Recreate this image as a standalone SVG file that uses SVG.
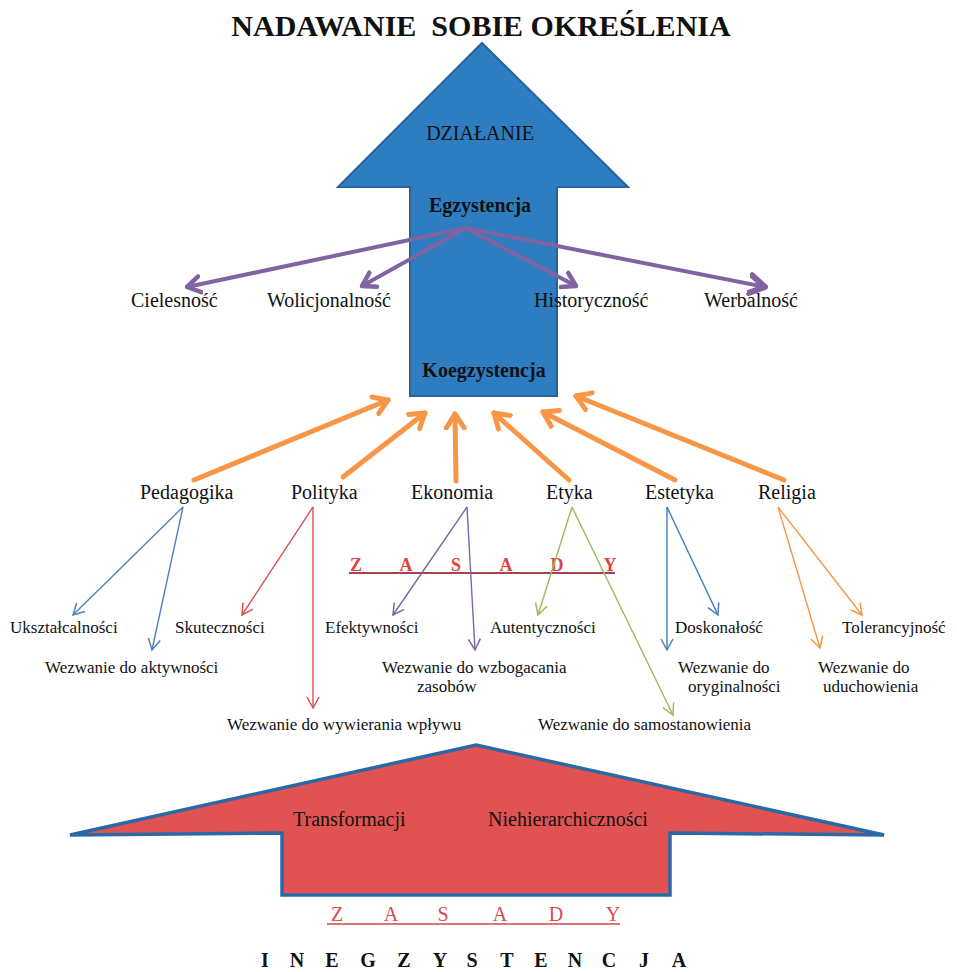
<svg xmlns="http://www.w3.org/2000/svg" width="957" height="972" viewBox="0 0 957 972">
<style>
text{font-family:"Liberation Serif","Times New Roman",serif;fill:#111}
.t{font-size:30px;font-weight:bold;white-space:pre}
.m{font-size:20px}
.b{font-size:20px;font-weight:bold}
.s{font-size:17px}
.z1{font-size:18px;font-weight:bold;fill:#E04545}
.z2{font-size:20px;fill:#D84B4B}
.ine{font-size:20px;font-weight:bold}
.pu{stroke:#8064A2;fill:none;stroke-width:4;stroke-linecap:round}
.or{stroke:#F79646;fill:none;stroke-width:5;stroke-linecap:round}
.th{fill:none;stroke-width:1.4}
</style>
<defs>
<marker id="mPu" markerUnits="userSpaceOnUse" markerWidth="30" markerHeight="30" viewBox="-15 -15 30 30" refX="0" refY="0" orient="auto"><path d="M-13,-8 L0,0 L-13,8" fill="none" stroke="#8064A2" stroke-width="4.5" stroke-linecap="round" stroke-linejoin="round"/></marker>
<marker id="mPuB" markerUnits="userSpaceOnUse" markerWidth="34" markerHeight="34" viewBox="-17 -17 34 34" refX="0" refY="0" orient="auto"><path d="M-15,-9 L0,0 L-15,9" fill="none" stroke="#8064A2" stroke-width="6" stroke-linecap="round" stroke-linejoin="round"/></marker>
<marker id="mOr" markerUnits="userSpaceOnUse" markerWidth="32" markerHeight="32" viewBox="-16 -16 32 32" refX="0" refY="0" orient="auto"><path d="M-14,-9 L0,0 L-14,9" fill="none" stroke="#F79646" stroke-width="5" stroke-linecap="round" stroke-linejoin="round"/></marker>
<marker id="tBl" markerUnits="userSpaceOnUse" markerWidth="24" markerHeight="24" viewBox="-12 -12 24 24" refX="0" refY="0" orient="auto"><path d="M-11,-6 L0,0 L-11,6" fill="none" stroke="#4F81BD" stroke-width="1.5"/></marker>
<marker id="tRd" markerUnits="userSpaceOnUse" markerWidth="24" markerHeight="24" viewBox="-12 -12 24 24" refX="0" refY="0" orient="auto"><path d="M-11,-6 L0,0 L-11,6" fill="none" stroke="#D9534F" stroke-width="1.5"/></marker>
<marker id="tPu" markerUnits="userSpaceOnUse" markerWidth="24" markerHeight="24" viewBox="-12 -12 24 24" refX="0" refY="0" orient="auto"><path d="M-11,-6 L0,0 L-11,6" fill="none" stroke="#8064A2" stroke-width="1.5"/></marker>
<marker id="tGr" markerUnits="userSpaceOnUse" markerWidth="24" markerHeight="24" viewBox="-12 -12 24 24" refX="0" refY="0" orient="auto"><path d="M-11,-6 L0,0 L-11,6" fill="none" stroke="#9BBB59" stroke-width="1.5"/></marker>
<marker id="tOr" markerUnits="userSpaceOnUse" markerWidth="24" markerHeight="24" viewBox="-12 -12 24 24" refX="0" refY="0" orient="auto"><path d="M-11,-6 L0,0 L-11,6" fill="none" stroke="#F79646" stroke-width="1.5"/></marker>
</defs>
<rect width="957" height="972" fill="#ffffff"/>

<g id="title"><text class="t" x="481" y="36" text-anchor="middle">NADAWANIE  SOBIE OKREŚLENIA</text></g>

<g id="arrow-up">
<polygon points="482,43 628,187 557,187 557,396 410,396 410,187 338,187" fill="#2E7DC1" stroke="#2462A0" stroke-width="2" stroke-linejoin="miter"/>
<text class="m" x="480" y="140" text-anchor="middle">DZIAŁANIE</text>
</g>
<g id="egzystencja"><text class="b" x="480" y="212" text-anchor="middle">Egzystencja</text></g>
<g id="koegzystencja"><text class="b" x="484" y="377" text-anchor="middle">Koegzystencja</text></g>

<g id="cielesnosc"><text class="m" x="131" y="307">Cielesność</text></g>
<g id="wolicjonalnosc"><text class="m" x="267" y="307">Wolicjonalność</text></g>
<g id="historycznosc"><text class="m" x="534" y="307">Historyczność</text></g>
<g id="werbalnosc"><text class="m" x="704" y="307">Werbalność</text></g>

<g id="pedagogika"><text class="m" x="140" y="499">Pedagogika</text></g>
<g id="polityka"><text class="m" x="291" y="499">Polityka</text></g>
<g id="ekonomia"><text class="m" x="411" y="499">Ekonomia</text></g>
<g id="etyka"><text class="m" x="546" y="499">Etyka</text></g>
<g id="estetyka"><text class="m" x="645" y="499">Estetyka</text></g>
<g id="religia"><text class="m" x="758" y="499">Religia</text></g>

<g id="zasady-top">
<line x1="349" y1="573" x2="615" y2="573" stroke="#A8404E" stroke-width="2"/>
<text class="z1" y="571" text-anchor="middle"><tspan x="356">Z</tspan><tspan x="406">A</tspan><tspan x="456">S</tspan><tspan x="506">A</tspan><tspan x="557">D</tspan><tspan x="610">Y</tspan></text>
</g>

<g id="connectors">
<line class="pu" x1="466" y1="228" x2="187" y2="287" marker-end="url(#mPu)"/>
<line class="pu" x1="466" y1="228" x2="362" y2="286" marker-end="url(#mPu)"/>
<line class="pu" x1="466" y1="228" x2="576" y2="286" marker-end="url(#mPu)"/>
<line class="pu" x1="466" y1="228" x2="765" y2="287" stroke-width="6" marker-end="url(#mPuB)"/>

<line class="or" x1="194" y1="480" x2="388" y2="400" marker-end="url(#mOr)"/>
<line class="or" x1="343" y1="477" x2="425" y2="413" marker-end="url(#mOr)"/>
<line class="or" x1="456" y1="481" x2="455" y2="414" marker-end="url(#mOr)"/>
<line class="or" x1="569" y1="480" x2="494" y2="413" marker-end="url(#mOr)"/>
<line class="or" x1="675" y1="480" x2="543" y2="412" marker-end="url(#mOr)"/>
<line class="or" x1="784" y1="480" x2="576" y2="396" marker-end="url(#mOr)"/>

<g stroke="#4F81BD" class="th">
<line x1="183" y1="507" x2="73" y2="615" marker-end="url(#tBl)"/>
<line x1="183" y1="507" x2="152" y2="650" marker-end="url(#tBl)"/>
</g>
<g stroke="#D9534F" class="th">
<line x1="313" y1="507" x2="242" y2="615" marker-end="url(#tRd)"/>
<line x1="313" y1="507" x2="313" y2="708" marker-end="url(#tRd)"/>
</g>
<g stroke="#8064A2" class="th">
<line x1="467" y1="507" x2="393" y2="615" marker-end="url(#tPu)"/>
<line x1="467" y1="507" x2="475" y2="650" marker-end="url(#tPu)"/>
</g>
<g stroke="#9BBB59" class="th">
<line x1="572" y1="507" x2="538" y2="615" marker-end="url(#tGr)"/>
<line x1="572" y1="507" x2="673" y2="715" marker-end="url(#tGr)"/>
</g>
<g stroke="#3F7CBF" class="th">
<line x1="667" y1="507" x2="718" y2="615" marker-end="url(#tBl)"/>
<line x1="667" y1="507" x2="667" y2="650" marker-end="url(#tBl)"/>
</g>
<g stroke="#F79646" class="th">
<line x1="778" y1="507" x2="862" y2="615" marker-end="url(#tOr)"/>
<line x1="778" y1="507" x2="820" y2="648" marker-end="url(#tOr)"/>
</g>
</g>

<g id="ukształcalnosci"><text class="s" x="10" y="633">Ukształcalności</text></g>
<g id="aktywnosci"><text class="s" x="45" y="673">Wezwanie do aktywności</text></g>
<g id="skutecznosci"><text class="s" x="175" y="633">Skuteczności</text></g>
<g id="wplywu"><text class="s" x="227" y="730">Wezwanie do wywierania wpływu</text></g>
<g id="efektywnosci"><text class="s" x="325" y="633">Efektywności</text></g>
<g id="zasobow"><text class="s" x="382" y="673">Wezwanie do wzbogacania</text><text class="s" x="417" y="692">zasobów</text></g>
<g id="autentycznosci"><text class="s" x="490" y="633">Autentyczności</text></g>
<g id="samostanowienia"><text class="s" x="538" y="730">Wezwanie do samostanowienia</text></g>
<g id="doskonalosc"><text class="s" x="675" y="633">Doskonałość</text></g>
<g id="oryginalnosci"><text class="s" x="678" y="673">Wezwanie do</text><text class="s" x="688" y="692">oryginalności</text></g>
<g id="tolerancyjnosc"><text class="s" x="842" y="633">Tolerancyjność</text></g>
<g id="uduchowienia"><text class="s" x="818" y="673">Wezwanie do</text><text class="s" x="823" y="692">uduchowienia</text></g>

<g id="arrow-red">
<polygon points="476,745 884,835 670,833 670,895 282,895 282,833 70,835" fill="#E05352" stroke="#2A69A6" stroke-width="3.5" stroke-linejoin="miter"/>
<text class="m" x="293" y="826">Transformacji</text>
<text class="m" x="488" y="826">Niehierarchiczności</text>
</g>

<g id="zasady-bottom">
<line x1="327" y1="924" x2="620" y2="924" stroke="#D04848" stroke-width="1.5"/>
<text class="z2" y="921" text-anchor="middle"><tspan x="337">Z</tspan><tspan x="391">A</tspan><tspan x="443">S</tspan><tspan x="500">A</tspan><tspan x="556">D</tspan><tspan x="613">Y</tspan></text>
</g>

<g id="inegzystencja">
<text class="ine" y="967" text-anchor="middle"><tspan x="265">I</tspan><tspan x="297">N</tspan><tspan x="332">E</tspan><tspan x="368">G</tspan><tspan x="404">Z</tspan><tspan x="440">Y</tspan><tspan x="472">S</tspan><tspan x="507">T</tspan><tspan x="541">E</tspan><tspan x="575">N</tspan><tspan x="609">C</tspan><tspan x="644">J</tspan><tspan x="679">A</tspan></text>
</g>
</svg>
